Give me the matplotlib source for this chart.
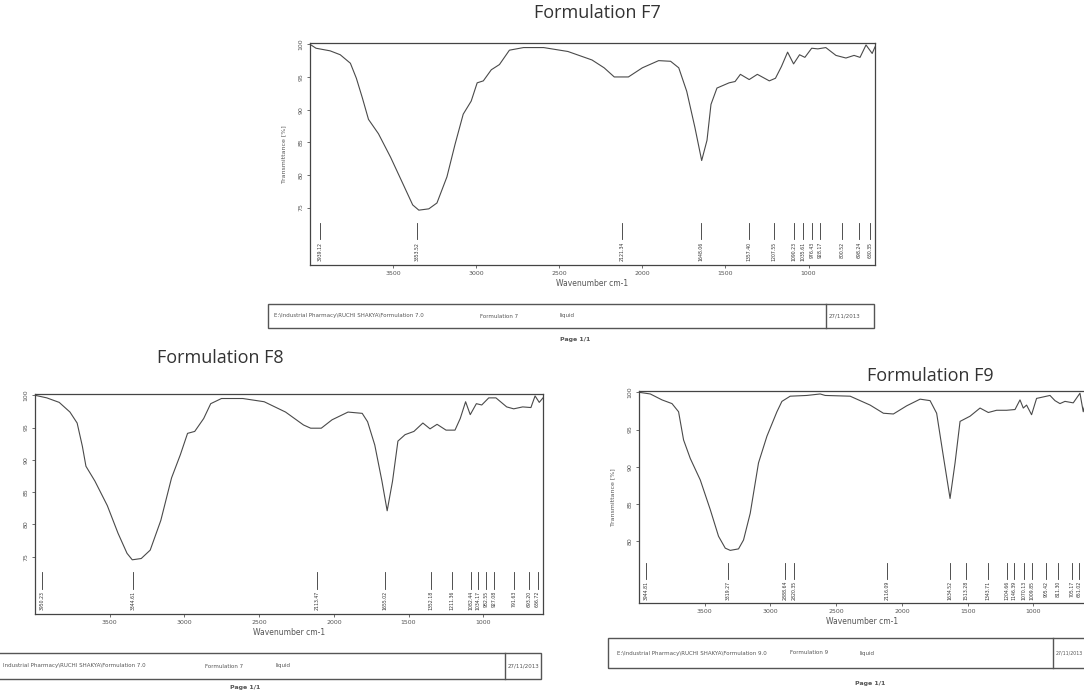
import matplotlib
matplotlib.use("Agg")
import matplotlib.pyplot as plt
from matplotlib.patches import Rectangle
import matplotlib.transforms as mtransforms

W, H = 1084, 694

# ---------------- data ----------------
f7_wn = [4000, 3964, 3879, 3818, 3757, 3721, 3685, 3648, 3588, 3515, 3442, 3382, 3345, 3285, 3236,
         3176, 3127, 3078, 3030, 2994, 2957, 2909, 2860, 2800, 2715, 2594, 2448, 2303, 2230, 2169,
         2084, 2000, 1902, 1830, 1781, 1733, 1684, 1643, 1611, 1587, 1551, 1478, 1442, 1410, 1357,
         1308, 1236, 1199, 1163, 1126, 1090, 1054, 1022, 981, 944, 896, 835, 775, 726, 690, 654, 617, 600]
f7_t = [100.0, 99.4, 99.0, 98.4, 97.1, 94.8, 91.8, 88.5, 86.3, 82.7, 78.7, 75.4, 74.6, 74.8, 75.7,
        79.7, 84.7, 89.3, 91.3, 94.1, 94.4, 96.1, 96.9, 99.1, 99.5, 99.5, 98.9, 97.6, 96.4, 95.0,
        95.0, 96.4, 97.5, 97.4, 96.4, 92.8, 87.3, 82.2, 85.3, 90.8, 93.3, 94.1, 94.3, 95.4, 94.6,
        95.4, 94.4, 94.8, 96.6, 98.8, 97.0, 98.4, 98.0, 99.4, 99.3, 99.5, 98.3, 97.9, 98.3, 98.0, 99.9, 98.6, 99.6]
f7_peaks = [3939.12, 3353.52, 2121.34, 1648.06, 1357.40, 1207.55, 1090.23, 1035.61, 976.43, 928.17,
            800.52, 698.24, 630.35]

f8_wn = [4000, 3921, 3838, 3766, 3718, 3683, 3659, 3599, 3516, 3444, 3384, 3349, 3289, 3229, 3158,
         3086, 3027, 2979, 2931, 2871, 2824, 2752, 2609, 2466, 2323, 2203, 2155, 2084, 2012, 1905,
         1810, 1774, 1726, 1678, 1643, 1607, 1571, 1523, 1464, 1404, 1356, 1309, 1249, 1189, 1154,
         1118, 1087, 1046, 1010, 963, 915, 843, 796, 736, 681, 653, 625, 600]
f8_t = [100.0, 99.6, 98.9, 97.4, 95.7, 92.1, 89.0, 86.7, 82.9, 78.6, 75.5, 74.5, 74.7, 76.0, 80.6,
        87.2, 90.8, 94.1, 94.4, 96.4, 98.7, 99.5, 99.5, 99.0, 97.4, 95.4, 94.9, 94.9, 96.2, 97.4,
        97.2, 95.9, 92.3, 86.7, 82.1, 86.7, 92.9, 93.9, 94.4, 95.7, 94.8, 95.5, 94.6, 94.6, 96.4,
        99.0, 97.0, 98.7, 98.5, 99.6, 99.6, 98.2, 97.9, 98.2, 98.1, 99.9, 98.9, 99.6]
f8_peaks = [3950.23, 3344.61, 2113.47, 1655.02, 1352.18, 1211.36, 1082.44, 1034.17, 982.55, 927.08,
            791.63, 693.20, 636.72]

f9_wn = [3990, 3914, 3825, 3749, 3699, 3661, 3610, 3534, 3458, 3395, 3344, 3306, 3243, 3205, 3154,
         3091, 3027, 2951, 2913, 2850, 2723, 2622, 2584, 2394, 2242, 2141, 2065, 1964, 1862, 1786,
         1736, 1685, 1634, 1596, 1558, 1482, 1406, 1343, 1280, 1204, 1140, 1102, 1077, 1052, 1014,
         976, 874, 836, 798, 760, 697, 646, 621, 600]
f9_t = [100.0, 99.8, 99.0, 98.5, 97.4, 93.6, 91.1, 88.2, 84.2, 80.6, 79.0, 78.7, 78.9, 80.1, 83.7,
        90.5, 94.1, 97.4, 98.8, 99.5, 99.6, 99.8, 99.6, 99.5, 98.3, 97.2, 97.1, 98.2, 99.1, 98.9,
        97.2, 91.4, 85.7, 90.5, 96.1, 96.8, 97.9, 97.3, 97.6, 97.6, 97.7, 99.0, 97.9, 98.3, 97.0,
        99.2, 99.6, 98.9, 98.5, 98.8, 98.6, 99.9, 97.4, 99.0]
f9_peaks = [3944.81, 3319.27, 2888.64, 2820.35, 2116.09, 1634.52, 1513.28, 1343.71, 1204.66, 1146.39,
            1070.13, 1009.85, 905.42, 811.30, 705.17, 651.02]

x_ticks = [3500, 3000, 2500, 2000, 1500, 1000]
f7_yticks = [100, 95, 90, 85, 80, 75]
f8_yticks = [100, 95, 90, 85, 80, 75]
f9_yticks = [100, 95, 90, 85, 80]

titles = ["Formulation F7", "Formulation F8", "Formulation F9"]
footers = [
    ("E:\\Industrial Pharmacy\\RUCHI SHAKYA\\Formulation 7.0", "Formulation 7", "liquid", "27/11/2013"),
    ("Industrial Pharmacy\\RUCHI SHAKYA\\Formulation 7.0", "Formulation 7", "liquid", "27/11/2013"),
    ("E:\\Industrial Pharmacy\\RUCHI SHAKYA\\Formulation 9.0", "Formulation 9", "liquid", "27/11/2013"),
]

# ---------------- drawing ----------------
plt.rcParams['font.family'] = ['DejaVu Sans']
fig = plt.figure(figsize=(W / 100, H / 100), dpi=100)
fig.patch.set_facecolor('white')

LINE = '#4a4a4a'
GREY = '#555555'


def add_ax(l, t, r, b):
    return fig.add_axes([l / W, 1 - b / H, (r - l) / W, (b - t) / H])


def spectrum(ax, wn, tr, peaks, yticks, ylim, ylabel=True):
    ax.plot(wn, tr, color=LINE, lw=0.8, solid_joinstyle='round')
    ax.set_xlim(4000, 600)
    ax.set_ylim(*ylim)
    ax.set_xticks(x_ticks)
    ax.set_xticklabels([str(v) for v in x_ticks], fontsize=4.5, color=GREY)
    ax.set_yticks(yticks)
    ax.set_yticklabels([str(v) for v in yticks], fontsize=4.5, color=GREY,
                       rotation=90, va='center')
    ax.tick_params(direction='out', length=2.5, width=0.6, colors=GREY, pad=2)
    for s in ax.spines.values():
        s.set_color('#444444')
        s.set_linewidth(0.9)
    ax.set_xlabel("Wavenumber cm-1", fontsize=5.5, color=GREY, labelpad=2)
    if ylabel:
        ax.set_ylabel("Transmittance [%]", fontsize=4.5, color=GREY, labelpad=9)
    trans = mtransforms.blended_transform_factory(ax.transData, ax.transAxes)
    for p in peaks:
        ax.plot([p, p], [0.19, 0.115], transform=trans, color='#333333', lw=0.6)
        ax.text(p, 0.105, f"{p:.2f}", transform=trans, rotation=90, fontsize=3.3,
                ha='center', va='top', color='#333333')
    ax.set_facecolor('white')


def footer(l, t, r, b, div, texts, xs, page_y, page_x, date_size=4):
    fig.patches.append(Rectangle((l / W, 1 - b / H), (r - l) / W, (b - t) / H,
                                 transform=fig.transFigure, fill=False,
                                 edgecolor='#555555', lw=1.0))
    fig.lines.append(plt.Line2D([div / W, div / W], [1 - b / H, 1 - t / H],
                                transform=fig.transFigure, color='#555555', lw=1.0))
    ym = 1 - (t + b) / 2 / H
    for s, x in zip(texts[:3], xs):
        fig.text(x / W, ym, s, fontsize=4, color=GREY, va='center', ha='left')
    fig.text((div + 3) / W, ym, texts[3], fontsize=date_size, color=GREY, va='center', ha='left')
    fig.text(page_x / W, 1 - page_y / H, "Page 1/1", fontsize=4.5, color=GREY,
             ha='center', va='center', fontweight='bold')


# F7
ax7 = add_ax(310, 43, 875, 265)
spectrum(ax7, f7_wn, f7_t, f7_peaks, f7_yticks, (66.2, 100.2))
fig.text(597 / W, 1 - 13 / H, titles[0], fontsize=13, family='Open Sans',
         ha='center', va='center', color='#333333')
footer(268, 304, 874, 328, 826, footers[0], [274, 480, 560], 339, 575)

# F8
ax8 = add_ax(35, 394, 543, 614)
spectrum(ax8, f8_wn, f8_t, f8_peaks, f8_yticks, (66.1, 100.2), ylabel=False)
fig.text(220 / W, 1 - 358 / H, titles[1], fontsize=13, family='Open Sans',
         ha='center', va='center', color='#333333')
footer(-60, 653, 541, 679, 505, footers[1], [3, 205, 275], 688, 245)

# F9
ax9 = add_ax(639, 391, 1086, 603)
spectrum(ax9, f9_wn, f9_t, f9_peaks, f9_yticks, (71.6, 100.2))
fig.text(930 / W, 1 - 376 / H, titles[2], fontsize=13, family='Open Sans',
         ha='center', va='center', color='#333333')
footer(608, 638, 1100, 668, 1053, footers[2], [617, 790, 860], 683, 870, date_size=3.4)

fig.savefig("out.png", dpi=100, facecolor='white')
